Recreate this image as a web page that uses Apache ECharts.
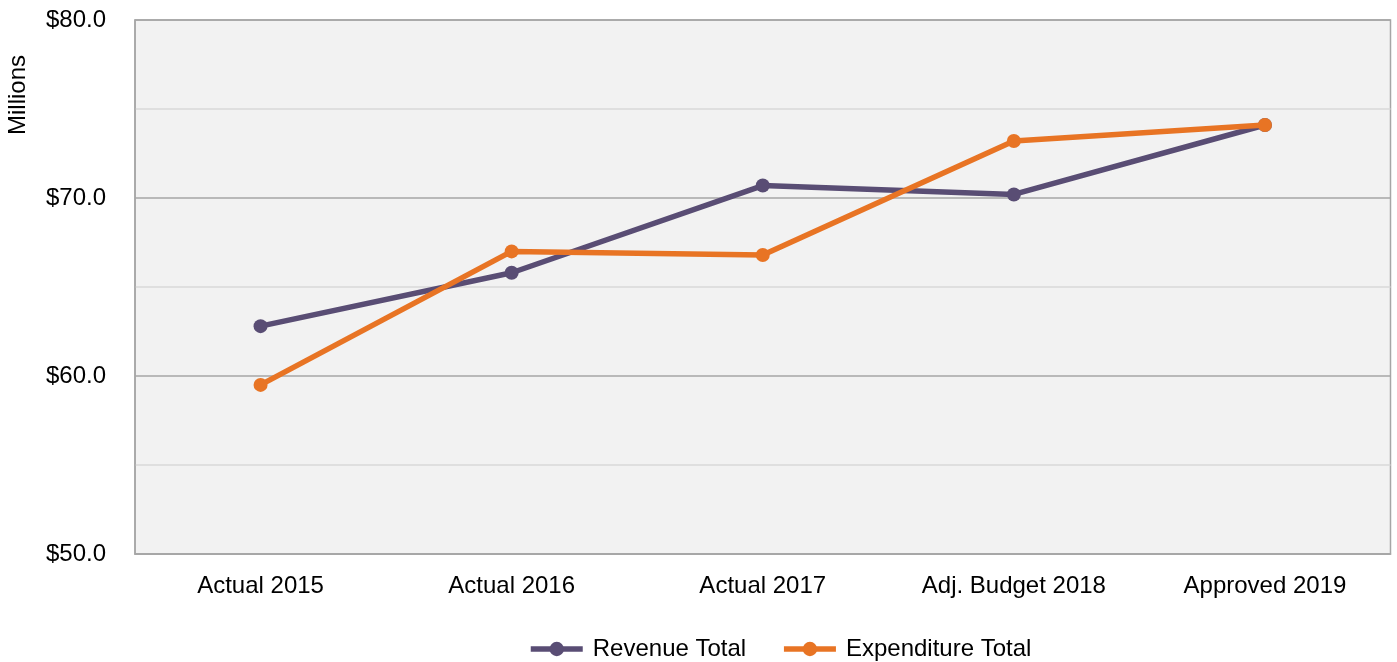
<!DOCTYPE html>
<html>
<head>
<meta charset="utf-8">
<script src="https://cdn.jsdelivr.net/npm/echarts@6/dist/echarts.min.js"></script>
<style>
  html, body { margin: 0; padding: 0; background: #ffffff; }
  #chart { width: 1397px; height: 662px; }
</style>
</head>
<body>
<div id="chart"></div>
<script>
// Fiscal periods on the category axis
const categories = ['Actual 2015', 'Actual 2016', 'Actual 2017', 'Adj. Budget 2018', 'Approved 2019'];
// Totals in millions of dollars
const revenueTotal = [62.8, 65.8, 70.7, 70.2, 74.1];
const expenditureTotal = [59.5, 67.0, 66.8, 73.2, 74.1];

const FONT = '"Liberation Sans", Arial, sans-serif';
const chart = echarts.init(document.getElementById('chart'), null, { renderer: 'canvas' });

chart.setOption({
  animation: false,
  textStyle: { fontFamily: FONT },
  grid: {
    left: 135, right: 6.5, top: 20, bottom: 108,
    show: true,
    backgroundColor: '#f2f2f2',
    borderColor: '#a6a6a6',
    borderWidth: 1.5
  },
  legend: {
    top: 632,
    left: 523,
    itemWidth: 52,
    itemHeight: 18,
    itemGap: 35,
    lineStyle: { width: 5.5 },
    textStyle: { fontFamily: FONT, fontSize: 24, color: '#000000', padding: [0, 0, 0, 5] },
    data: ['Revenue Total', 'Expenditure Total']
  },
  graphic: [{
    type: 'text',
    left: 6,
    top: 55,
    rotation: Math.PI / 2,
    style: { text: 'Millions', font: '24px "Liberation Sans", Arial, sans-serif', fill: '#000000' }
  }],
  xAxis: {
    type: 'category',
    data: categories,
    boundaryGap: true,
    axisLine: { lineStyle: { color: '#a6a6a6', width: 1.5 } },
    axisTick: { show: false },
    axisLabel: { fontFamily: FONT, fontSize: 24, color: '#000000', margin: 20 }
  },
  yAxis: {
    type: 'value',
    min: 50,
    max: 80,
    interval: 10,
    axisLine: { show: true, lineStyle: { color: '#a6a6a6', width: 1.5 } },
    axisTick: { show: false },
    axisLabel: {
      fontFamily: FONT, fontSize: 24, color: '#000000', margin: 29,
      formatter: v => '$' + v.toFixed(1)
    },
    splitLine: { show: true, lineStyle: { color: '#a6a6a6', width: 1.5 } },
    minorTick: { show: false, splitNumber: 2 },
    minorSplitLine: { show: true, lineStyle: { color: '#d9d9d9', width: 1.5 } }
  },
  series: [
    {
      name: 'Revenue Total',
      type: 'line',
      data: revenueTotal,
      symbol: 'circle',
      symbolSize: 14,
      color: '#594d74',
      lineStyle: { width: 5.5, color: '#594d74' },
      itemStyle: { color: '#594d74' },
      z: 2
    },
    {
      name: 'Expenditure Total',
      type: 'line',
      data: expenditureTotal,
      symbol: 'circle',
      symbolSize: 14,
      color: '#e87424',
      lineStyle: { width: 5.5, color: '#e87424' },
      itemStyle: { color: '#e87424' },
      z: 3
    }
  ]
});
</script>
</body>
</html>
